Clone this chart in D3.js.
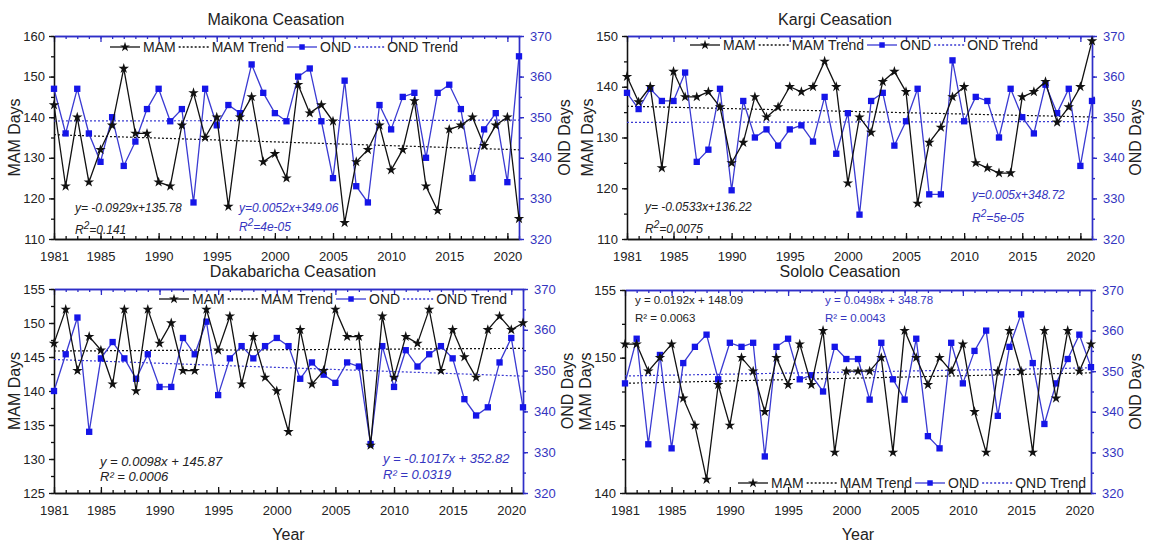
<!DOCTYPE html>
<html>
<head>
<meta charset="utf-8">
<script src="https://cdn.jsdelivr.net/npm/d3@7"></script>
<style>
  body { margin: 0; background: #fff; }
  svg { display: block; font-family: "Liberation Sans", Arial, sans-serif; }
</style>
</head>
<body>
<script>
// years on the x axis
var years = d3.range(1981, 2022);
var yearTicks = [1981, 1985, 1990, 1995, 2000, 2005, 2010, 2015, 2020];

// ceasation days
var maikonaMAM = [143,123,140,124,132,138,152,136,136,124,123,138,146,135,140,118,140,145,129,131,125,
                  148,141,143,139,114,129,132,138,127,132,144,123,117,137,138,140,133,138,140,115];
var maikonaOND = [357,346,357,346,339,350,338,344,352,357,349,352,329,357,348,353,351,363,356,351,349,
                  360,362,349,335,359,333,329,353,347,355,356,340,356,358,352,335,347,351,334,365];
var kargiMAM = [142,137,140,124,143,138,138,139,136,125,129,138,134,136,140,139,140,145,140,121,134,
                131,141,143,139,117,129,132,138,140,125,124,123,123,138,139,141,133,136,140,149];
var kargiOND = [356,352,357,354,354,361,339,342,357,332,354,345,347,343,347,348,344,355,341,351,326,
                354,356,343,349,357,331,331,364,349,355,354,345,357,350,346,358,351,357,338,354];
var dakabarichaMAM = [147,152,143,148,146,141,152,140,152,147,150,143,143,152,146,151,141,148,142,140,134,
                      149,141,143,152,148,148,132,151,142,148,147,152,143,149,145,142,149,151,149,150];
var dakabarichaOND = [345,354,363,335,353,357,353,348,354,346,346,358,354,362,344,353,356,353,356,358,356,
                      348,352,349,347,352,351,332,356,346,355,351,354,356,353,343,339,341,352,358,341];
var sololoMAM = [151,151,149,150,151,147,145,141,148,145,150,149,146,150,148,151,148,152,143,149,149,
                 149,150,143,152,150,148,150,149,151,146,143,149,152,149,143,152,147,152,149,151];
var sololoOND = [347,358,332,354,331,352,356,359,348,357,356,357,329,356,358,348,349,345,356,353,353,
                 343,357,348,343,358,334,331,357,347,355,360,339,356,364,352,337,347,353,359,351];

// trend coefficients printed on the chart [slope, intercept], x = 1..41
var maikonaTrend = [[-0.0929, 135.78], [0.0052, 349.06]];
var kargiTrend = [[-0.0533, 136.22], [0.005, 348.72]];
var dakabarichaTrend = [[0.0098, 145.87], [-0.1017, 352.82]];
var sololoTrend = [[0.0192, 148.09], [0.0498, 348.78]];

var ondTicks = [320, 330, 340, 350, 360, 370];

var BLUE_AXIS = "#2e2ec8", BLUE_LINE = "#3a3ad2", BLUE_MARK = "#1515e8", BLUE_TEXT = "#3535c0";
var INK = "#222";

var svg = d3.select("body").append("svg").attr("width", 1153).attr("height", 543);

var panels = [
  { title: "Maikona Ceasation", mam: maikonaMAM, ond: maikonaOND, trend: maikonaTrend,
    mamDomain: [110, 160], mamTicks: [110,120,130,140,150,160], mamMinor: 5,
    left: 54, right: 519, top: 36, bottom: 239, titleX: 276, titleY: 25, ondOff: 45,
    legend: [110, 52], italic: true, eqSize: 12,
    eq: ["y= -0.0929x+135.78", "=0.141", "y=0.0052x+349.06", "=4e-05"], sup: true,
    eqPos: [[75, 212], [75, 234], [239, 212], [239, 231]], year: false },
  { title: "Kargi Ceasation", mam: kargiMAM, ond: kargiOND, trend: kargiTrend,
    mamDomain: [110, 150], mamTicks: [110,120,130,140,150], mamMinor: 5,
    left: 627, right: 1092, top: 36, bottom: 239, titleX: 835, titleY: 25, ondOff: 43,
    legend: [690, 50], italic: true, eqSize: 12,
    eq: ["y= -0.0533x+136.22", "=0.0075", "y=0.005x+348.72", "=5e-05"], sup: true,
    eqPos: [[645, 211], [645, 233], [972, 199], [972, 222]], year: false },
  { title: "Dakabaricha Ceasation", mam: dakabarichaMAM, ond: dakabarichaOND, trend: dakabarichaTrend,
    mamDomain: [125, 155], mamTicks: [125,130,135,140,145,150,155], mamMinor: 2.5,
    left: 54, right: 523, top: 289, bottom: 493, titleX: 293, titleY: 277, ondOff: 44,
    legend: [159, 304], italic: true, eqSize: 13,
    eq: ["y = 0.0098x + 145.87", "R\u00b2 = 0.0006", "y = -0.1017x + 352.82", "R\u00b2 = 0.0319"], sup: false,
    eqPos: [[100, 466], [100, 481], [383, 463], [383, 479]], year: true },
  { title: "Sololo Ceasation", mam: sololoMAM, ond: sololoOND, trend: sololoTrend,
    mamDomain: [140, 155], mamTicks: [140,145,150,155], mamMinor: 2.5,
    left: 625, right: 1091, top: 290, bottom: 493, titleX: 840, titleY: 277, ondOff: 44,
    legend: [738, 488], italic: false, eqSize: 11.5,
    eq: ["y = 0.0192x + 148.09", "R\u00b2 = 0.0063", "y = 0.0498x + 348.78", "R\u00b2 = 0.0043"], sup: false,
    eqPos: [[635, 304], [635, 322], [825, 304], [825, 322]], year: true }
];

function minorValues(domain, step) {
  var out = [];
  for (var v = domain[0]; v <= domain[1] + 1e-9; v += step) out.push(+v.toFixed(3));
  return out;
}

function drawPanel(p) {
  var x = d3.scaleLinear().domain([1981, 2021]).range([p.left, p.right]);
  var yL = d3.scaleLinear().domain(p.mamDomain).range([p.bottom, p.top]);
  var yR = d3.scaleLinear().domain([320, 370]).range([p.bottom, p.top]);
  var g = svg.append("g");

  // bottom axis (black)
  var gb = g.append("g").attr("transform", "translate(0," + p.bottom + ")");
  gb.call(d3.axisBottom(x).tickValues(years).tickSize(-3).tickSizeOuter(0).tickFormat(""));
  gb.append("g").call(d3.axisBottom(x).tickValues(yearTicks).tickSize(-6).tickSizeOuter(0)
      .tickPadding(13).tickFormat(d3.format("d")));
  gb.selectAll("path,line").attr("stroke", "#111").attr("stroke-width", 1.3);
  gb.selectAll("text").attr("font-size", 13).attr("fill", INK).attr("font-family", null);

  // top axis (blue, ticks inward)
  var gt = g.append("g").attr("transform", "translate(0," + p.top + ")");
  gt.call(d3.axisTop(x).tickValues(years).tickSize(-3).tickSizeOuter(0).tickFormat(""));
  gt.append("g").call(d3.axisTop(x).tickValues(yearTicks).tickSize(-6).tickSizeOuter(0).tickFormat(""));
  gt.selectAll("path,line").attr("stroke", BLUE_AXIS).attr("stroke-width", 1.3);

  // left axis (black)
  var gl = g.append("g").attr("transform", "translate(" + p.left + ",0)");
  gl.call(d3.axisLeft(yL).tickValues(minorValues(p.mamDomain, p.mamMinor)).tickSize(3).tickSizeOuter(0).tickFormat(""));
  gl.append("g").call(d3.axisLeft(yL).tickValues(p.mamTicks).tickSize(5).tickSizeOuter(0).tickPadding(4));
  gl.selectAll("path,line").attr("stroke", "#111").attr("stroke-width", 1.3);
  gl.selectAll("text").attr("font-size", 13).attr("fill", INK).attr("font-family", null);

  // right axis (blue)
  var gr = g.append("g").attr("transform", "translate(" + p.right + ",0)");
  gr.call(d3.axisRight(yR).tickValues(minorValues([320, 370], 5)).tickSize(3).tickSizeOuter(0).tickFormat(""));
  gr.append("g").call(d3.axisRight(yR).tickValues(ondTicks).tickSize(5).tickSizeOuter(0).tickPadding(6));
  gr.selectAll("path,line").attr("stroke", BLUE_AXIS).attr("stroke-width", 1.4);
  gr.selectAll("text").attr("font-size", 13).attr("fill", BLUE_TEXT).attr("font-family", null);

  // trend lines
  var t0 = [x(1981), x(2021)];
  var mamT = [p.trend[0][0] * 1 + p.trend[0][1], p.trend[0][0] * 41 + p.trend[0][1]];
  var ondT = [p.trend[1][0] * 1 + p.trend[1][1], p.trend[1][0] * 41 + p.trend[1][1]];
  g.append("line").attr("x1", t0[0]).attr("x2", t0[1]).attr("y1", yR(ondT[0])).attr("y2", yR(ondT[1]))
    .attr("stroke", BLUE_LINE).attr("stroke-width", 1.2).attr("stroke-dasharray", "2,2");
  g.append("line").attr("x1", t0[0]).attr("x2", t0[1]).attr("y1", yL(mamT[0])).attr("y2", yL(mamT[1]))
    .attr("stroke", "#111").attr("stroke-width", 1.2).attr("stroke-dasharray", "2,2");

  // OND series
  var lineR = d3.line().x(function(d, i) { return x(years[i]); }).y(function(d) { return yR(d); });
  g.append("path").datum(p.ond).attr("d", lineR).attr("fill", "none")
    .attr("stroke", BLUE_LINE).attr("stroke-width", 1.3);
  g.selectAll(".sq").data(p.ond).enter().append("path")
    .attr("d", d3.symbol(d3.symbolSquare, 40))
    .attr("transform", function(d, i) { return "translate(" + x(years[i]) + "," + yR(d) + ")"; })
    .attr("fill", BLUE_MARK);

  // MAM series
  var lineL = d3.line().x(function(d, i) { return x(years[i]); }).y(function(d) { return yL(d); });
  g.append("path").datum(p.mam).attr("d", lineL).attr("fill", "none")
    .attr("stroke", "#111").attr("stroke-width", 1.3);
  g.selectAll(".st").data(p.mam).enter().append("path")
    .attr("d", d3.symbol(d3.symbolStar, 34))
    .attr("transform", function(d, i) { return "translate(" + x(years[i]) + "," + yL(d) + ")"; })
    .attr("fill", "#111");

  // title and axis labels
  g.append("text").attr("x", p.titleX).attr("y", p.titleY).attr("text-anchor", "middle")
    .attr("font-size", 16).attr("fill", INK).text(p.title);
  var midY = (p.top + p.bottom) / 2;
  g.append("text").attr("transform", "translate(" + (p.left - 40) + "," + midY + ") rotate(-90)")
    .attr("text-anchor", "middle").attr("dy", "0.35em").attr("font-size", 16).attr("fill", INK).text("MAM Days");
  g.append("text").attr("transform", "translate(" + (p.right + p.ondOff) + "," + midY + ") rotate(-90)")
    .attr("text-anchor", "middle").attr("dy", "0.35em").attr("font-size", 16).attr("fill", INK).text("OND Days");
  if (p.year) {
    g.append("text").attr("x", (p.left + p.right) / 2).attr("y", 540).attr("text-anchor", "middle")
      .attr("font-size", 16).attr("fill", INK).text("Year");
  }

  // regression text
  p.eq.forEach(function(s, i) {
    var t = g.append("text").attr("x", p.eqPos[i][0]).attr("y", p.eqPos[i][1])
      .attr("font-size", p.eqSize).attr("font-style", p.italic ? "italic" : "normal")
      .attr("fill", i < 2 ? INK : BLUE_TEXT);
    if (p.sup && (i % 2 === 1)) {
      t.append("tspan").text("R");
      t.append("tspan").attr("dy", -5).attr("font-size", p.eqSize - 2).text("2");
      t.append("tspan").attr("dy", 5).text(s);
    } else {
      t.text(s);
    }
  });

  // legend
  var lx = p.legend[0], ly = p.legend[1];
  var items = [
    { label: "MAM", color: "#111", dash: null, sym: d3.symbolStar, symSize: 30 },
    { label: "MAM Trend", color: "#111", dash: "2,2", sym: null },
    { label: "OND", color: BLUE_LINE, dash: null, sym: d3.symbolSquare, symSize: 30 },
    { label: "OND Trend", color: BLUE_LINE, dash: "2,2", sym: null }
  ];
  var lg = g.append("g");
  items.forEach(function(it) {
    var cy = ly - 5;
    lg.append("line").attr("x1", lx).attr("x2", lx + 30).attr("y1", cy).attr("y2", cy)
      .attr("stroke", it.color).attr("stroke-width", 1.3).attr("stroke-dasharray", it.dash);
    if (it.sym) {
      lg.append("path").attr("d", d3.symbol(it.sym, it.symSize))
        .attr("transform", "translate(" + (lx + 15) + "," + cy + ")")
        .attr("fill", it.color === "#111" ? "#111" : BLUE_MARK);
    }
    var tx = lg.append("text").attr("x", lx + 33).attr("y", ly).attr("font-size", 14)
      .attr("fill", INK).text(it.label);
    lx += 33 + tx.node().getComputedTextLength() + 3;
  });
}

panels.forEach(drawPanel);
</script>
</body>
</html>
